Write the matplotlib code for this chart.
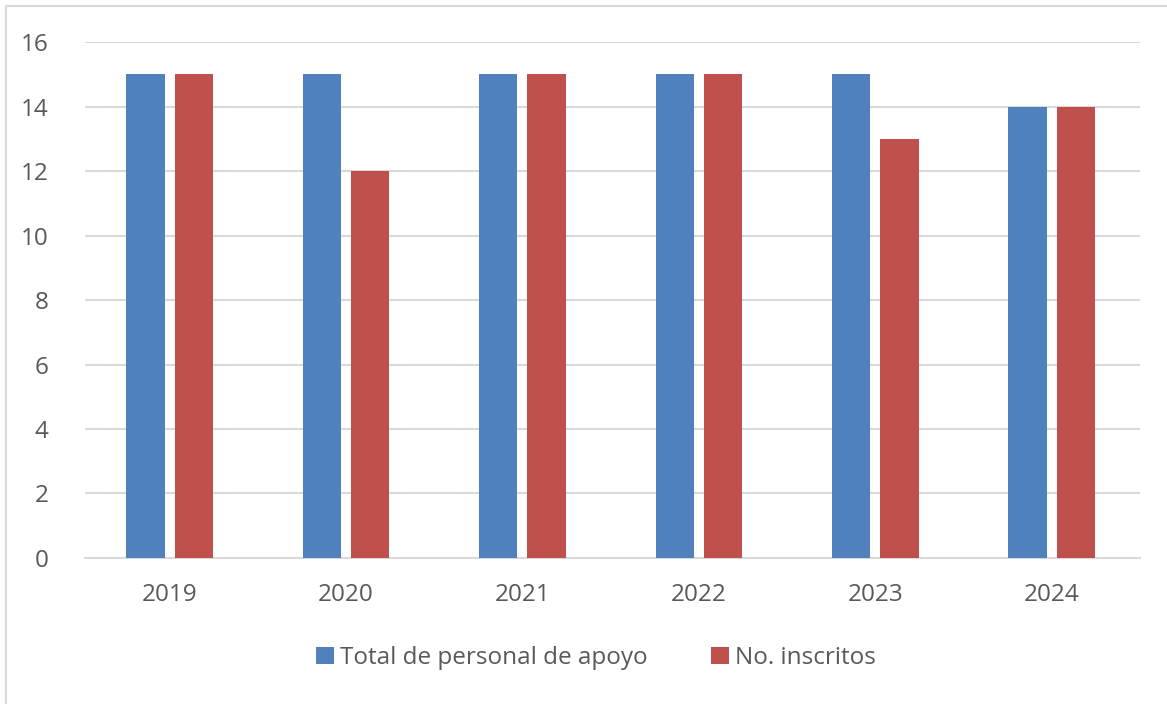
import numpy as np
import matplotlib.pyplot as plt
from matplotlib.patches import Rectangle

years = ['2019', '2020', '2021', '2022', '2023', '2024']
total_apoyo = [15, 15, 15, 15, 15, 14]
inscritos = [15, 12, 15, 15, 13, 14]

blue = '#4F81BD'
red = '#C0504D'
grid_c = '#D9D9D9'
text_c = '#595959'

plt.rcParams['font.family'] = ['Open Sans', 'DejaVu Sans']

fig = plt.figure(figsize=(11.67, 7.04), dpi=100)
ax = fig.add_axes([0.0728, 0.2074, 0.904, 0.7329])

x = np.arange(len(years))
w = 0.217
off = 0.137
ax.bar(x - off, total_apoyo, w, color=blue, label='Total de personal de apoyo', zorder=3)
ax.bar(x + off, inscritos, w, color=red, label='No. inscritos', zorder=3)

ax.set_xlim(-0.48, len(years) - 0.5)
ax.set_ylim(0, 16)
ax.set_yticks(range(0, 17, 2))
ax.set_xticks(x)
ax.set_xticklabels(years)
ax.yaxis.grid(True, color=grid_c, linewidth=1.5, zorder=0)
for s in ['top', 'right', 'left']:
    ax.spines[s].set_visible(False)
ax.spines['bottom'].set_color(grid_c)
ax.spines['bottom'].set_linewidth(1.5)
ax.tick_params(axis='both', length=0, labelsize=17.5, colors=text_c)
ax.tick_params(axis='y', pad=26)
ax.tick_params(axis='x', pad=18)

fig.legend(loc='center', bbox_to_anchor=(596 / 1167, 1 - 658 / 704), ncol=2,
           frameon=False, fontsize=17.5, labelcolor=text_c, handlelength=0.75,
           handleheight=0.75, handletextpad=0.25, columnspacing=2.6)

# light border around the chart area
fig.patches.append(Rectangle((6 / 1167, -0.02), 1.1, 1 - 6 / 704 + 0.02,
                             transform=fig.transFigure, fill=False,
                             edgecolor='#D9D9D9', linewidth=1.5))

fig.savefig('out.png', dpi=100)
